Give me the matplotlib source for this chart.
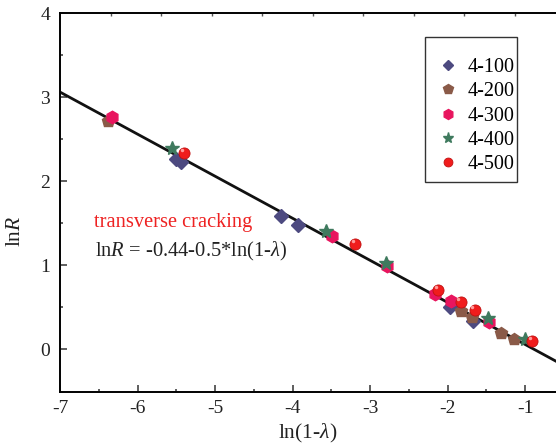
import matplotlib
matplotlib.use("Agg")
import matplotlib.pyplot as plt
import numpy as np
from matplotlib.patches import Rectangle

plt.rcParams.update({
    "font.family": ["Liberation Serif", "DejaVu Serif"],
    "mathtext.fontset": "custom",
    "mathtext.rm": "Liberation Serif",
    "mathtext.it": "Liberation Serif:italic",
    "axes.unicode_minus": False,
    "axes.linewidth": 1.3,
})

INK = "#222222"

# measured points, ln(1-lambda) vs lnR
x100 = [-5.50, -5.44, -4.15, -3.93, -1.97, -1.67]
y100 = [2.26, 2.23, 1.59, 1.48, 0.51, 0.34]

x200 = [-6.38, -1.82, -1.69, -1.31, -1.14]
y200 = [2.72, 0.46, 0.39, 0.20, 0.12]

x300 = [-6.33, -3.49, -2.78, -2.16, -1.96, -1.47]
y300 = [2.76, 1.35, 0.99, 0.66, 0.58, 0.33]

x400 = [-5.55, -3.57, -2.80, -1.48, -1.00]
y400 = [2.40, 1.41, 1.03, 0.37, 0.13]

x500 = [-5.40, -3.19, -2.12, -1.83, -1.65, -0.91]
y500 = [2.34, 1.25, 0.71, 0.56, 0.47, 0.10]

# fitted line lnR = a + b*ln(1-lambda)
fit_a, fit_b = -0.44, -0.5
fit_x = np.array([-7.0, -0.6])

W, H = 556, 444
fig = plt.figure(figsize=(W / 100, H / 100), dpi=100)
ax = fig.add_axes([60 / W, 52.5 / H, 496 / W, 378.5 / H])

ax.plot(fit_x, fit_a + fit_b * fit_x, color="#111111", lw=2.0, zorder=2)

kw = dict(ls="none", zorder=3)
ax.plot(x100, y100, marker="D", ms=7, color="#4d4a80", mec="#4d4a80", label="4-100", **kw)
ax.plot(x200, y200, marker="p", ms=9, color="#8a5a48", mec="#8a5a48", label="4-200", **kw)
ax.plot(x300, y300, marker="h", ms=9, color="#e8155e", mec="#e8155e", label="4-300", **kw)
ax.plot(x400, y400, marker="*", ms=10, color="#3f7a5e", mec="#3f7a5e", label="4-400", **kw)
ax.plot(x500, y500, marker="o", ms=8, color="#f01c1c", mec="#c01010", mew=0.6, label="4-500", **kw)
# highlight on the red balls
ax.plot(np.array(x500) - 0.03, np.array(y500) + 0.035, marker="o", ms=2.5,
        color="#ff9a9a", mec="none", ls="none", zorder=4)

ax.set_xlim(-7, -0.6)
ax.set_ylim(-0.5, 4)
ax.set_xticks([-7, -6, -5, -4, -3, -2, -1])
ax.set_yticks([0, 1, 2, 3, 4])
ax.set_xticks(np.arange(-7, -0.6, 0.5), minor=True)
ax.set_yticks(np.arange(-0.5, 4.01, 0.5), minor=True)
ax.tick_params(which="both", direction="in", colors="#333333", labelcolor=INK,
               labelsize=14, width=1.1)
ax.tick_params(which="major", length=5)
ax.tick_params(which="minor", length=2.5)
ax.tick_params(axis="x", pad=6)
ax.tick_params(axis="y", pad=7)
ax.spines["right"].set_visible(False)
for s in ax.spines.values():
    s.set_color("#333333")

top = ax.twiny()
top.set_xlim(0, 496 / 50.5)
top.set_xticks(range(1, 10))
top.tick_params(direction="in", length=2.5, width=1.0, colors="#555555", labeltop=False)
top.spines["right"].set_visible(False)

ax.set_xlabel(r"ln(1-$\mathit{\lambda}$)", fontsize=15.5, color=INK, labelpad=4)
ax.set_ylabel(r"ln$\mathit{R}$", fontsize=15.5, color=INK)
ax.yaxis.set_label_coords(-35 / 496, 0.424)

ax.text(-6.56, 1.51, "transverse cracking", color="#ee2222", fontsize=14.7, va="center")
ax.text(-6.55, 1.165, r"ln$\mathit{R}$ = -0.44-0.5*ln(1-$\mathit{\lambda}$)", color=INK,
        fontsize=14.8, va="center")

# legend box drawn separately so its padding can follow the reference
leg = ax.legend(loc="upper left", bbox_to_anchor=(378 / 496, 1 - 45 / 378.5),
                fontsize=14.5, frameon=False, borderpad=0, borderaxespad=0,
                handlelength=1.0, handletextpad=0.45, labelspacing=0.26,
                markerscale=0.8)
fig.patches.append(Rectangle((425 / W, 1 - 182 / H), 92 / W, 145 / H,
                             transform=fig.transFigure, fill=False,
                             edgecolor="#333333", lw=1.0, zorder=5))

fig.savefig("out.png", dpi=100)
